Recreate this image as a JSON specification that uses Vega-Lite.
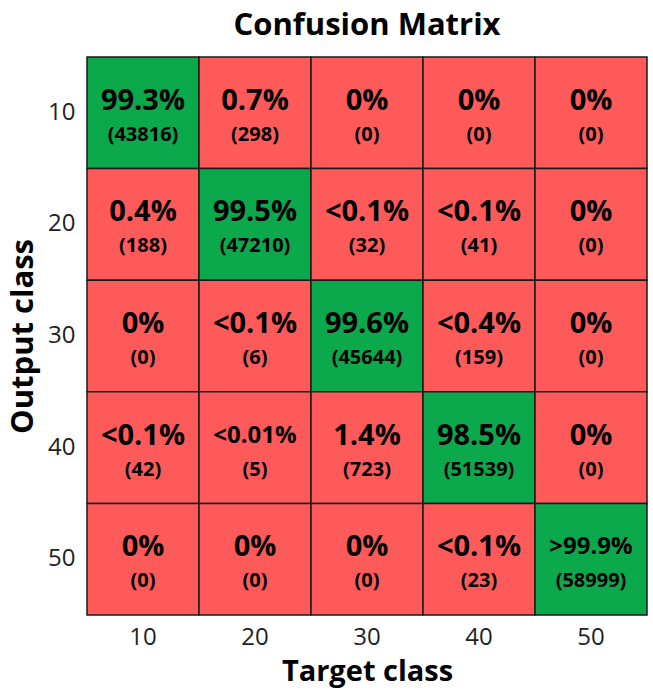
{
  "$schema": "https://vega.github.io/schema/vega-lite/v6.json",
  "autosize": {"type": "none"},
  "width": 560,
  "height": 558,
  "padding": {"left": 87, "top": 57, "right": 6, "bottom": 77},
  "background": "white",
  "title": {"text": "Confusion Matrix", "font": "Open Sans", "fontSize": 31, "fontWeight": "bold", "color": "black", "anchor": "middle", "offset": 14},
  "data": {"values": [
    {"target": "10", "output": "10", "pct": "99.3%", "count": "(43816)", "diag": "yes"},
    {"target": "20", "output": "10", "pct": "0.7%", "count": "(298)", "diag": "no"},
    {"target": "30", "output": "10", "pct": "0%", "count": "(0)", "diag": "no"},
    {"target": "40", "output": "10", "pct": "0%", "count": "(0)", "diag": "no"},
    {"target": "50", "output": "10", "pct": "0%", "count": "(0)", "diag": "no"},
    {"target": "10", "output": "20", "pct": "0.4%", "count": "(188)", "diag": "no"},
    {"target": "20", "output": "20", "pct": "99.5%", "count": "(47210)", "diag": "yes"},
    {"target": "30", "output": "20", "pct": "<0.1%", "count": "(32)", "diag": "no"},
    {"target": "40", "output": "20", "pct": "<0.1%", "count": "(41)", "diag": "no"},
    {"target": "50", "output": "20", "pct": "0%", "count": "(0)", "diag": "no"},
    {"target": "10", "output": "30", "pct": "0%", "count": "(0)", "diag": "no"},
    {"target": "20", "output": "30", "pct": "<0.1%", "count": "(6)", "diag": "no"},
    {"target": "30", "output": "30", "pct": "99.6%", "count": "(45644)", "diag": "yes"},
    {"target": "40", "output": "30", "pct": "<0.4%", "count": "(159)", "diag": "no"},
    {"target": "50", "output": "30", "pct": "0%", "count": "(0)", "diag": "no"},
    {"target": "10", "output": "40", "pct": "<0.1%", "count": "(42)", "diag": "no"},
    {"target": "20", "output": "40", "pct": "<0.01%", "count": "(5)", "diag": "no", "small": "yes"},
    {"target": "30", "output": "40", "pct": "1.4%", "count": "(723)", "diag": "no"},
    {"target": "40", "output": "40", "pct": "98.5%", "count": "(51539)", "diag": "yes"},
    {"target": "50", "output": "40", "pct": "0%", "count": "(0)", "diag": "no"},
    {"target": "10", "output": "50", "pct": "0%", "count": "(0)", "diag": "no"},
    {"target": "20", "output": "50", "pct": "0%", "count": "(0)", "diag": "no"},
    {"target": "30", "output": "50", "pct": "0%", "count": "(0)", "diag": "no"},
    {"target": "40", "output": "50", "pct": "<0.1%", "count": "(23)", "diag": "no"},
    {"target": "50", "output": "50", "pct": ">99.9%", "count": "(58999)", "diag": "yes", "small": "yes"}
  ]},
  "encoding": {
    "x": {"field": "target", "type": "ordinal", "sort": ["10", "20", "30", "40", "50"],
      "scale": {"paddingInner": 0, "paddingOuter": 0},
      "axis": {"title": "Target class", "titleFont": "Open Sans", "titleFontSize": 29, "titleFontWeight": "bold", "titleColor": "black", "titlePadding": 8,
        "labelFont": "Open Sans", "labelFontSize": 24, "labelColor": "#222", "labelAngle": 0, "labelPadding": 10, "ticks": false, "domain": false}},
    "y": {"field": "output", "type": "ordinal", "sort": ["10", "20", "30", "40", "50"],
      "scale": {"paddingInner": 0, "paddingOuter": 0},
      "axis": {"title": "Output class", "titleFont": "Open Sans", "titleFontSize": 31, "titleFontWeight": "bold", "titleColor": "black", "titlePadding": 8,
        "labelFont": "Open Sans", "labelFontSize": 24, "labelColor": "#222", "labelPadding": 12, "ticks": false, "domain": false}}
  },
  "layer": [
    {"mark": {"type": "rect", "stroke": "#1a1a1a", "strokeWidth": 1.5},
     "encoding": {"color": {"field": "diag", "type": "nominal", "scale": {"domain": ["yes", "no"], "range": ["#0CA84C", "#FF5A5A"]}, "legend": null}}},
    {"mark": {"type": "text", "font": "Open Sans", "fontWeight": "bold", "color": "black", "dy": -12, "baseline": "middle"},
     "encoding": {"text": {"field": "pct"}, "size": {"condition": {"test": "datum.small === 'yes'", "value": 24}, "value": 29}}},
    {"mark": {"type": "text", "font": "Open Sans", "fontWeight": "bold", "fontSize": 20, "color": "black", "dy": 22, "baseline": "middle"},
     "encoding": {"text": {"field": "count"}}}
  ],
  "config": {"view": {"stroke": null}}
}
